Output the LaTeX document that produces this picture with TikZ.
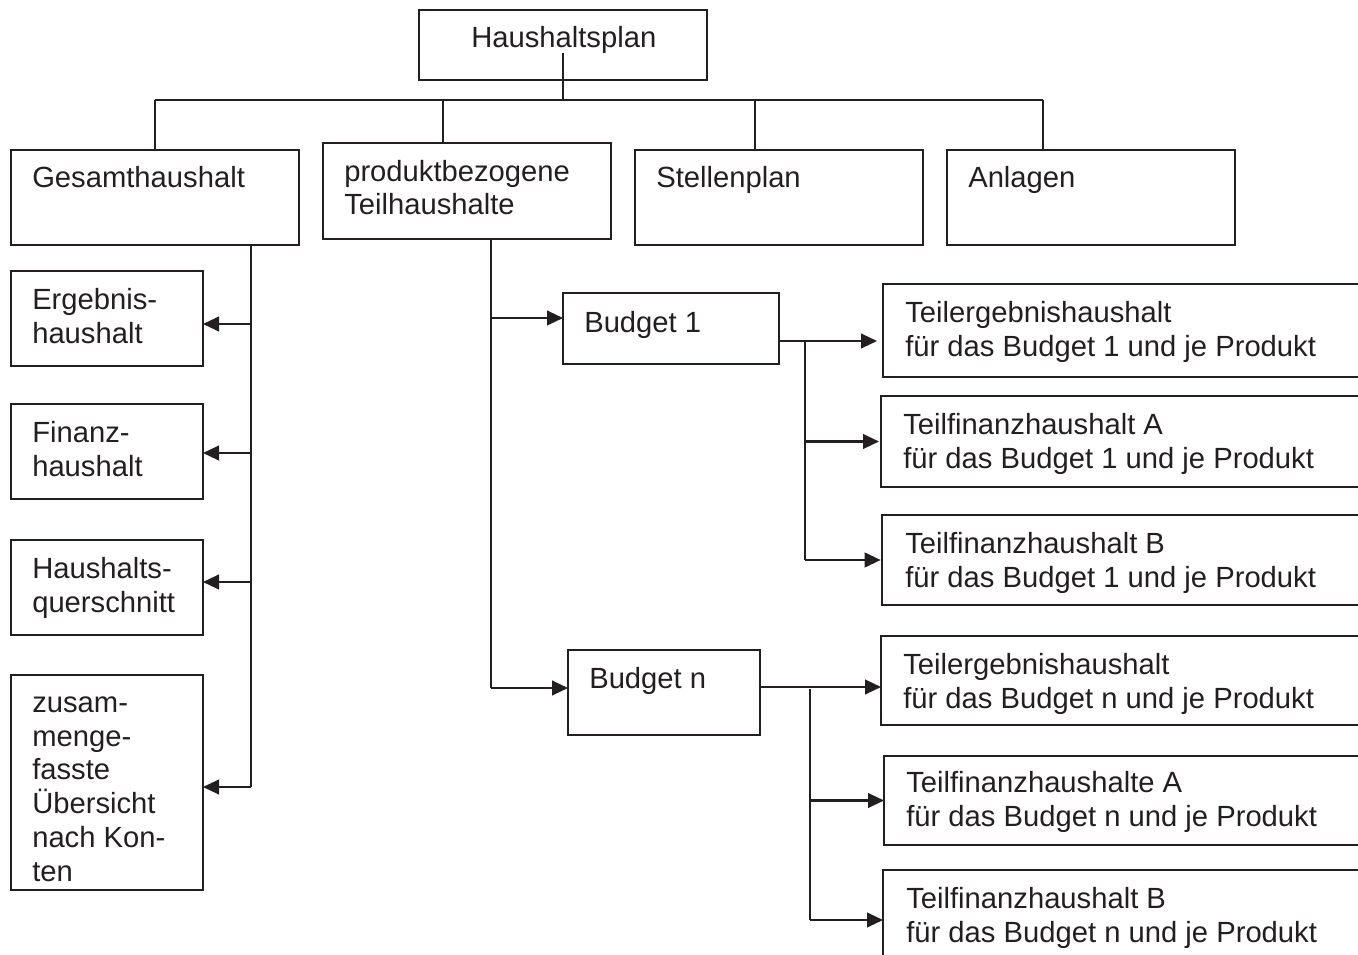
\documentclass[tikz,border=0pt]{standalone}
\usepackage{fontspec}
\setmainfont{Liberation Sans}
\usetikzlibrary{arrows.meta,calc}
\definecolor{ink}{HTML}{231F20}
\newcommand\mkbox[5]{\node[box,minimum width={(#4-#2)*0.75pt},minimum height={(#5-#3)*0.75pt}] (#1) at (#2,#3) {};}
\begin{document}
\begin{tikzpicture}[x=0.75pt,y=-0.75pt,
  box/.style={draw=ink,line width=1.6pt,rectangle,inner sep=0pt,outer sep=0pt,anchor=north west},
  txt/.style={anchor=base west,inner sep=0pt,text=ink,font=\fontsize{21.9}{25.3}\selectfont,align=left},
  conn/.style={draw=ink,line width=1.6pt},
  arr/.style={conn,-{Triangle[length=12pt,width=11pt]}}]
\useasboundingbox (0,0) rectangle (1358,955);
\clip (0,0) rectangle (1358,955);
% boxes
\mkbox{hp}{419}{10}{707}{80}
\mkbox{ges}{11}{150}{299}{245}
\mkbox{prod}{323}{143}{611}{239}
\mkbox{stell}{635}{150}{923}{245}
\mkbox{anl}{947}{150}{1235}{245}
\mkbox{erg}{11}{271}{203}{366}
\mkbox{fin}{11}{404}{203}{499}
\mkbox{hq}{11}{540}{203}{635}
\mkbox{zus}{11}{675}{203}{890}
\mkbox{b1}{563}{293}{779}{364}
\mkbox{bn}{568}{650}{760}{735}
\mkbox{t1}{883}{284}{1370}{377}
\mkbox{a1}{881}{396}{1370}{487}
\mkbox{bb1}{882}{515}{1370}{605}
\mkbox{tn}{881}{636}{1370}{725}
\mkbox{an}{884}{756}{1370}{845}
\mkbox{bbn}{883}{870}{1370}{970}
% texts (base = baseline of the last line)
\node[txt] (hpT) at (471,48) {Haushaltsplan};
\node[txt] (gesT) at (32,188) {Gesamthaushalt};
\node[txt] (prodT) at (344,215) {produktbezogene\\Teilhaushalte};
\node[txt] (stellT) at (656,188) {Stellenplan};
\node[txt] (anlT) at (968,188) {Anlagen};
\node[txt] (ergT) at (32,343) {Ergebnis-\\haushalt};
\node[txt] (finT) at (32,476) {Finanz-\\haushalt};
\node[txt] (hqT) at (32,612) {Haushalts-\\querschnitt};
\node[txt] (zusT) at (32,881) {zusam-\\menge-\\fasste\\Übersicht\\nach Kon-\\ten};
\node[txt] (b1T) at (584,332) {Budget 1};
\node[txt] (bnT) at (589,688) {Budget n};
\node[txt] (t1T) at (905,356) {Teilergebnishaushalt\\für das Budget 1 und je Produkt};
\node[txt] (a1T) at (903,468) {Teilfinanzhaushalt A\\für das Budget 1 und je Produkt};
\node[txt] (bb1T) at (905,587) {Teilfinanzhaushalt B\\für das Budget 1 und je Produkt};
\node[txt] (tnT) at (903,708) {Teilergebnishaushalt\\für das Budget n und je Produkt};
\node[txt] (anT) at (906,826) {Teilfinanzhaushalte A\\für das Budget n und je Produkt};
\node[txt] (bbnT) at (906,942) {Teilfinanzhaushalt B\\für das Budget n und je Produkt};
% top tree
\coordinate (hps) at ($(hp.south)+(0,-27)$);
\coordinate (bus) at (563,100);
\coordinate (dges) at ($(ges.north west)+(144,0)$);
\coordinate (dprod) at ($(prod.north west)+(120,0)$);
\coordinate (dstell) at ($(stell.north west)+(120,0)$);
\coordinate (danl) at ($(anl.north west)+(96,0)$);
\draw[conn] (hps) -- (bus);
\draw[conn] (dges |- bus) -- (danl |- bus);
\foreach \d in {dges,dprod,dstell,danl} \draw[conn] (\d |- bus) -- (\d);
% left column
\coordinate (lc) at ($(ges.south west)+(240,0)$);
\coordinate (ergw) at ($(erg.north west)+(0,53)$);
\coordinate (finw) at ($(fin.north west)+(0,49)$);
\coordinate (hqw) at ($(hq.north west)+(0,42)$);
\coordinate (zusw) at ($(zus.north west)+(0,112)$);
\draw[conn] (lc) -- (lc |- zusw);
\foreach \n in {ergw,finw,hqw,zusw} \draw[arr] (lc |- \n) -- ($(\n)+(192,0)$);
% middle column
\coordinate (mc) at ($(prod.south west)+(168,0)$);
\coordinate (b1w) at ($(b1.north west)+(0,25)$);
\coordinate (bnw) at ($(bn.north west)+(0,38)$);
\draw[conn] (mc) -- (mc |- bnw);
\draw[arr] (mc |- b1w) -- (b1w);
\draw[arr] (mc |- bnw) -- (bnw);
% budget 1
\coordinate (b1o) at ($(b1.north east)+(0,48)$);
\coordinate (v1) at ($(b1o)+(26,0)$);
\draw[arr,shorten >=4.5pt] (b1o) -- (b1o -| t1.west);
\draw[conn] (v1) -- (v1 |- bb1.west);
\draw[arr,shorten >=1.5pt] (v1 |- a1.west) -- (a1.west);
\draw[arr,shorten >=1pt] (v1 |- bb1.west) -- (bb1.west);
% budget n
\coordinate (bno) at ($(bn.north east)+(0,37)$);
\coordinate (vn) at ($(bno)+(50,0)$);
\draw[arr] (bno) -- (bno -| tn.west);
\draw[conn] ($(vn)+(0,2)$) -- (vn |- bbn.west);
\draw[arr] (vn |- an.west) -- (an.west);
\draw[arr] (vn |- bbn.west) -- (bbn.west);
\end{tikzpicture}
\end{document}
